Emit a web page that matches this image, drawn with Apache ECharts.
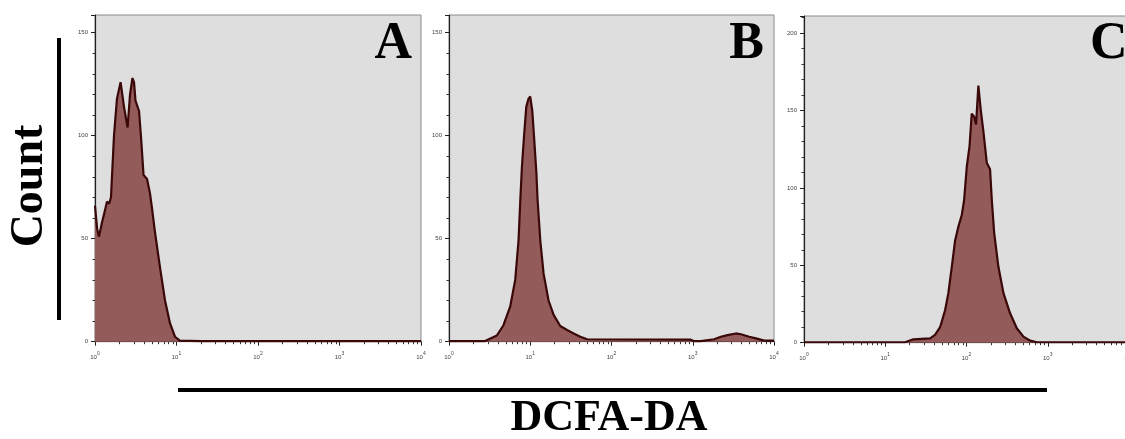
<!DOCTYPE html>
<html>
<head>
<meta charset="utf-8">
<script src="https://cdn.jsdelivr.net/npm/echarts@6/dist/echarts.min.js"></script>
<style>
  html, body { margin: 0; background: #fff; }
  #main { width: 1125px; height: 439px; }
</style>
</head>
<body>
<div id="main"></div>
<script>
// DCFA-DA fluorescence (x, log scale) vs cell count, one histogram per panel
const panelNames = ['A', 'B', 'C'];
const decadeTicks = [1, 10, 100, 1000, 10000];
const decadeLabels = ['0', '1', '2', '3', '4'];

const aX = [1, 1.06, 1.12, 1.22, 1.33, 1.40, 1.49, 1.57, 1.71, 1.86, 2.06, 2.27, 2.51, 2.69, 2.88, 3.01,
  3.14, 3.47, 3.66, 3.94, 4.35, 4.73, 5.0, 5.45, 6.28, 7.23, 8.32, 9.59, 11.0, 20, 100, 1000, 10000];
const aY = [66, 55, 51, 58, 64, 68, 67, 70, 100, 118, 126, 114, 104, 120, 128, 126,
  117, 112, 100, 81, 79, 72, 65, 53, 36, 20, 9, 2.4, 0.5, 0.3, 0.3, 0.3, 0.3];

const bX = [1, 2.78, 2.92, 3.88, 4.68, 5.66, 6.53, 7.17, 7.53, 7.90, 8.43, 8.93, 9.53, 10.0, 10.6, 11.2,
  11.9, 12.3, 13.3, 14.6, 16.8, 19.4, 23.4, 28.4, 34.2, 41.4, 50.1, 944, 1030, 1256, 1318, 1832,
  2216, 2680, 3394, 3917, 4955, 5998, 7590, 10000];
const bY = [0.3, 0.3, 1, 3, 8, 17, 30, 49, 68, 85, 101, 114, 118, 119, 112, 98,
  82, 69, 49, 33, 20, 13, 7.6, 5.7, 4, 2.4, 1.2, 1.0, 0.3, 0.3, 1.2, 1.2,
  2.4, 3.2, 4, 3.6, 2.4, 1.6, 0.5, 0.5];

const cX = [1, 17.5, 18.4, 22.2, 35.6, 41.0, 47.3, 54.5, 59.8, 65.9, 72.4, 79.5, 87.5, 93.4, 101, 109,
  116, 124, 131, 140, 150, 161, 178, 195, 205, 219, 247, 285, 344, 416, 502, 607, 734, 10000];
const cY = [0.3, 0.3, 1.3, 2.2, 2.8, 5, 10, 21, 32, 49, 66, 75, 82.5, 92, 114, 127,
  148, 146, 141, 166, 150, 137, 116, 112, 92, 71, 49, 32, 19, 9.3, 3.9, 1.3, 0.3, 0.3];

const yMaxes = [158.6, 158.6, 211];

// minor ticks 2..9 in every decade
const minorTicks = [];
for (let d = 1; d < 10000; d *= 10) {
  for (let k = 2; k <= 9; k++) minorTicks.push(k * d);
}

// panel C runs off the right edge of the figure, as in the original
const grids = [
  { left: 95, top: 15, width: 326, height: 326.7 },
  { left: 449, top: 15, width: 325, height: 326.7 },
  { left: 804, top: 16, width: 325, height: 326.7 }
];

const series = [[aX, aY], [bX, bY], [cX, cY]];
const fill = '#935b59';
const edge = '#3a0808';
const serif = '"Liberation Serif", "Times New Roman", serif';

const chart = echarts.init(document.getElementById('main'));

const xAxis = [];
const yAxis = [];
grids.forEach((g, i) => {
  xAxis.push({
    type: 'log', logBase: 10, min: 1, max: 10000, gridIndex: i, position: 'bottom',
    axisLine: { lineStyle: { color: '#222', width: 1.2 } },
    axisTick: { length: 4, customValues: decadeTicks, lineStyle: { color: '#222' } },
    axisLabel: {
      customValues: decadeTicks,
      margin: 9,
      color: '#444',
      formatter: v => '{b|10}{s|' + decadeLabels[decadeTicks.indexOf(v)] + '}',
      rich: {
        b: { fontSize: 6, fontFamily: 'Liberation Sans', color: '#444', verticalAlign: 'bottom', lineHeight: 10 },
        s: { fontSize: 5, fontFamily: 'Liberation Sans', color: '#444', verticalAlign: 'top', lineHeight: 10 }
      }
    },
    splitLine: { show: false }
  });
  xAxis.push({
    type: 'log', logBase: 10, min: 1, max: 10000, gridIndex: i, position: 'bottom',
    axisLine: { show: false },
    axisTick: { length: 2.5, customValues: minorTicks, lineStyle: { color: '#333' } },
    axisLabel: { show: false },
    splitLine: { show: false }
  });
  yAxis.push({
    type: 'value', min: 0, max: yMaxes[i], interval: 50, gridIndex: i,
    axisLine: { show: true, lineStyle: { color: '#222', width: 1.2 } },
    axisTick: { show: true, length: 4, lineStyle: { color: '#222' } },
    minorTick: { show: true, splitNumber: 5, length: 2.5, lineStyle: { color: '#333' } },
    axisLabel: {
      fontSize: 6, fontFamily: 'Liberation Sans', color: '#444', margin: 7,
      formatter: v => (v % 50 === 0 ? String(v) : '')
    },
    splitLine: { show: false }
  });
});

const option = {
  animation: false,
  backgroundColor: '#fff',
  grid: grids.map(g => Object.assign({
    show: true, backgroundColor: '#dedede', borderColor: '#8a8a8a', borderWidth: 1,
    containLabel: false, outerBoundsMode: 'none'
  }, g)),
  xAxis: xAxis,
  yAxis: yAxis,
  series: series.map(([xs, ys], i) => ({
    type: 'line',
    xAxisIndex: i * 2,
    yAxisIndex: i,
    symbol: 'none',
    smooth: false,
    lineStyle: { color: edge, width: 2.2 },
    areaStyle: { color: fill, opacity: 1 },
    data: xs.map((x, j) => [x, ys[j]])
  })),
  graphic: [
    // panel letters
    { type: 'text', x: 412, y: 45, style: { text: panelNames[0], font: 'bold 52px ' + serif, fill: '#000', textAlign: 'right', textVerticalAlign: 'middle' } },
    { type: 'text', x: 764, y: 45, style: { text: panelNames[1], font: 'bold 52px ' + serif, fill: '#000', textAlign: 'right', textVerticalAlign: 'middle' } },
    { type: 'text', x: 1090, y: 45, style: { text: panelNames[2], font: 'bold 52px ' + serif, fill: '#000', textAlign: 'left', textVerticalAlign: 'middle' } },
    // y title
    { type: 'text', x: 30, y: 186, rotation: Math.PI / 2, style: { text: 'Count', font: 'bold 46px ' + serif, fill: '#000', textAlign: 'center', textVerticalAlign: 'middle' } },
    { type: 'line', shape: { x1: 59, y1: 38, x2: 59, y2: 320 }, style: { stroke: '#000', lineWidth: 4 } },
    // x title
    { type: 'line', shape: { x1: 178, y1: 390, x2: 1047, y2: 390 }, style: { stroke: '#000', lineWidth: 4 } },
    { type: 'text', x: 609, y: 419, style: { text: 'DCFA-DA', font: 'bold 44px ' + serif, fill: '#000', textAlign: 'center', textVerticalAlign: 'middle' } }
  ]
};

chart.setOption(option);
</script>
</body>
</html>
